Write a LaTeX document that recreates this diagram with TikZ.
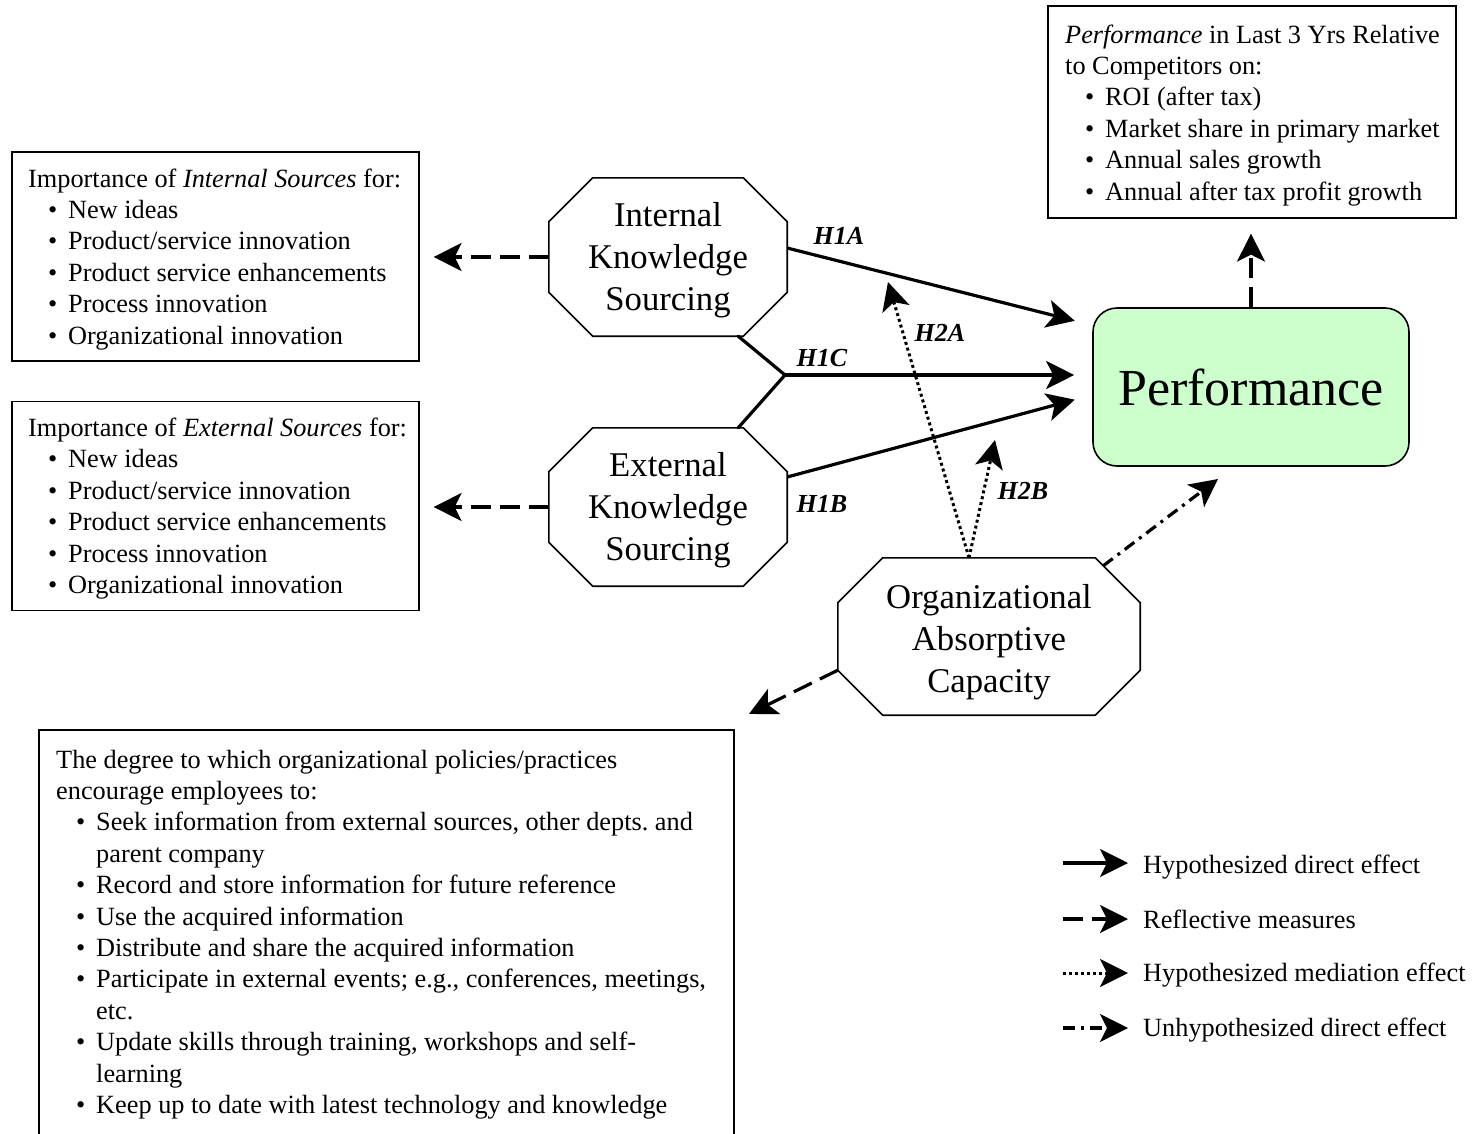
\documentclass[tikz,border=0pt]{standalone}
\usepackage{fontspec}
\setmainfont{Liberation Serif}
\usetikzlibrary{arrows.meta,calc}
\definecolor{perfgreen}{HTML}{CCFFCC}
\frenchspacing
\newcommand\bul{\makebox[40pt][l]{\hspace{20pt}\textbullet}}
\newcommand\cont{\hspace*{40pt}}
\newcommand\octo[2]{\draw[octline] ([xshift=#2pt]#1.north west) -- ([xshift=-#2pt]#1.north east) -- ([yshift=-#2pt]#1.north east) -- ([yshift=#2pt]#1.south east) -- ([xshift=-#2pt]#1.south east) -- ([xshift=#2pt]#1.south west) -- ([yshift=#2pt]#1.south west) -- ([yshift=-#2pt]#1.north west) -- cycle;}
\begin{document}
\begin{tikzpicture}[x=1pt,y=-1pt,
  box/.style={draw, line width=1.6pt, rectangle, inner sep=0pt, anchor=north west},
  boxtext/.style={anchor=base west, inner sep=0pt, font=\fontsize{26.3}{31.4}\selectfont\frenchspacing},
  octarea/.style={rectangle, inner sep=0pt},
  octtext/.style={inner sep=0pt, align=center, font=\fontsize{34.7}{42}\selectfont},
  octline/.style={line width=1.6pt, line join=miter},
  tip/.style={-{Stealth[length=28pt,width=28pt,inset=7pt]}},
  conn/.style={line width=3.2pt, tip},
  plain/.style={line width=3.2pt},
  refl/.style={conn, dash pattern=on 20pt off 9pt},
  med/.style={conn, line width=3pt, dash pattern=on 3pt off 3pt},
  unh/.style={conn, dash pattern=on 12pt off 6pt on 3pt off 6pt},
  hlab/.style={font=\fontsize{26}{30}\selectfont\bfseries\itshape, inner sep=0pt},
  legtext/.style={anchor=base west, inner sep=0pt, font=\fontsize{26.3}{31.4}\selectfont},
]
\useasboundingbox (0,0) rectangle (1473,1133);
\clip (0,0) rectangle (1473,1133);

% measure boxes
\node[box, minimum width=407pt, minimum height=209pt] (ibox) at (11,151) {};
\node[boxtext] (itext) at (28,187) {\parbox[t]{390pt}{Importance of \textit{Internal Sources} for:\\
\bul New ideas\\
\bul Product/service innovation\\
\bul Product service enhancements\\
\bul Process innovation\\
\bul Organizational innovation}};

\node[box, minimum width=407pt, minimum height=209pt] (ebox) at (11,400.5) {};
\node[boxtext] (etext) at (28,436.5) {\parbox[t]{390pt}{Importance of \textit{External Sources} for:\\
\bul New ideas\\
\bul Product/service innovation\\
\bul Product service enhancements\\
\bul Process innovation\\
\bul Organizational innovation}};

\node[box, minimum width=408pt, minimum height=212pt] (pbox) at (1047,5) {};
\node[boxtext] (ptext) at (1065,43) {\parbox[t]{400pt}{\textit{Performance} in Last 3 Yrs Relative\\
to Competitors on:\\
\bul ROI (after tax)\\
\bul Market share in primary market\\
\bul Annual sales growth\\
\bul Annual after tax profit growth}};

\node[box, minimum width=695pt, minimum height=450pt] (bbox) at (38,729) {};
\node[boxtext] (btext) at (56,768) {\parbox[t]{680pt}{The degree to which organizational policies/practices\\
encourage employees to:\\
\bul Seek information from external sources, other depts. and\\
\cont parent company\\
\bul Record and store information for future reference\\
\bul Use the acquired information\\
\bul Distribute and share the acquired information\\
\bul Participate in external events; e.g., conferences, meetings,\\
\cont etc.\\
\bul Update skills through training, workshops and self-\\
\cont learning\\
\bul Keep up to date with latest technology and knowledge}};

% octagons
\node[octarea, minimum width=238pt, minimum height=158pt] (iks) at (668,257) {};
\octo{iks}{44}
\node[octtext] (ikst) at (668,260) {Internal\\Knowledge\\Sourcing};

\node[octarea, minimum width=238pt, minimum height=158pt] (eks) at (668,507) {};
\octo{eks}{44}
\node[octtext] (ekst) at (668,510) {External\\Knowledge\\Sourcing};

\node[octarea, minimum width=302pt, minimum height=157pt] (oac) at (989,636.5) {};
\octo{oac}{45}
\node[octtext] (oact) at (989,642) {Organizational\\Absorptive\\Capacity};

% performance
\node[draw, line width=1.6pt, rounded corners=24pt, fill=perfgreen, minimum width=316pt, minimum height=158pt, inner sep=0pt, font=\fontsize{52}{60}\selectfont] (perf) at (1251,387) {Performance};

% reflective measures
\draw[refl, shorten >=14pt] (iks.west) -- (iks.west -| ibox.east);
\draw[refl, shorten >=14pt] (eks.west) -- (eks.west -| ebox.east);
\draw[refl, shorten >=15pt] (perf.north) -- (perf.north |- pbox.south);
\draw[refl, shorten >=16pt] ([yshift=45pt]oac.south west) -- ([yshift=8pt]bbox.north east);

% hypothesized direct effects
\draw[conn, shorten >=18pt] ([yshift=9pt]iks.east) -- ([yshift=-18pt]perf.north west);
\coordinate (jc) at (785,375);
\draw[plain, line cap=round] ([xshift=-49pt]iks.south east) -- (jc) -- ([xshift=-49pt]eks.north east);
\draw[conn, shorten >=18pt] (jc) -- (jc -| perf.west);
\draw[conn, shorten >=18pt] ([yshift=30pt]eks.east) -- ([yshift=-8pt]perf.west);

% mediation effects
\coordinate (oact0) at ([xshift=-20pt]oac.north);
\coordinate (h2aend) at (888,282);
\coordinate (h2bend) at (995,440);
\draw[med] (oact0) -- (h2aend);
\draw[med] (oact0) -- (h2bend);

% unhypothesized direct effect
\coordinate (uend) at (1218,479);
\draw[unh] ([xshift=-37pt,yshift=-8pt]oac.north east) -- (uend);

% labels
\node[hlab] (h1a) at (839,236) {H1A};
\node[hlab] (h2a) at (940,333) {H2A};
\node[hlab] (h1c) at (822,358) {H1C};
\node[hlab] (h1b) at (822,504) {H1B};
\node[hlab] (h2b) at (1023,491) {H2B};

% legend
\coordinate (l1s) at (1063,863); \coordinate (l1e) at (1128,863);
\coordinate (l2s) at (1063,919); \coordinate (l2e) at (1128,919);
\coordinate (l3s) at (1063,973); \coordinate (l3e) at (1128,973);
\coordinate (l4s) at (1063,1028); \coordinate (l4e) at (1128,1028);
\draw[conn] (l1s) -- (l1e);
\draw[refl] (l2s) -- (l2e);
\draw[med] (l3s) -- (l3e);
\draw[unh] (l4s) -- (l4e);
\node[legtext] (lt1) at (1143,873) {Hypothesized direct effect};
\node[legtext] (lt2) at (1143,928) {Reflective measures};
\node[legtext] (lt3) at (1143,981) {Hypothesized mediation effect};
\node[legtext] (lt4) at (1143,1036) {Unhypothesized direct effect};
\end{tikzpicture}
\end{document}
